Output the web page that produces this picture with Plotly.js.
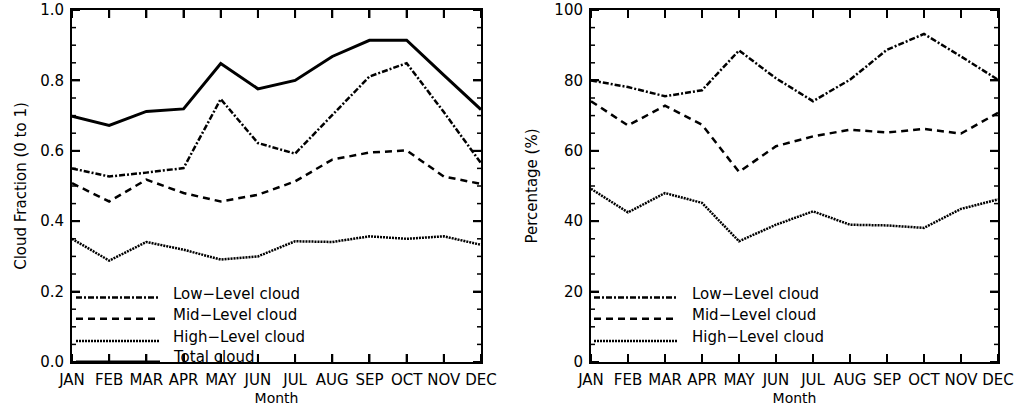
<!DOCTYPE html>
<html>
<head>
<meta charset="utf-8">
<script src="https://cdn.plot.ly/plotly-3.0.1.min.js"></script>
<style>html,body{margin:0;padding:0;background:#fff;} #chart{width:1015px;height:413px;}</style>
</head>
<body>
<div id="chart"></div>
<script>
var months = ["JAN","FEB","MAR","APR","MAY","JUN","JUL","AUG","SEP","OCT","NOV","DEC"];

var fracLow   = [0.550, 0.527, 0.538, 0.551, 0.747, 0.622, 0.592, 0.700, 0.811, 0.849, 0.710, 0.565];
var fracMid   = [0.508, 0.456, 0.518, 0.480, 0.456, 0.475, 0.513, 0.575, 0.595, 0.601, 0.527, 0.506];
var fracHigh  = [0.350, 0.288, 0.341, 0.319, 0.291, 0.300, 0.343, 0.341, 0.357, 0.350, 0.357, 0.333];
var fracTotal = [0.698, 0.672, 0.712, 0.719, 0.848, 0.776, 0.800, 0.868, 0.914, 0.914, 0.815, 0.717];

var pctLow  = [80.0, 78.1, 75.5, 77.2, 88.5, 80.6, 74.1, 80.2, 88.7, 93.2, 86.8, 80.2];
var pctMid  = [74.1, 67.2, 72.8, 67.4, 54.0, 61.3, 64.1, 66.0, 65.2, 66.2, 64.9, 70.8];
var pctHigh = [49.2, 42.5, 48.0, 45.2, 34.3, 39.0, 42.8, 39.0, 38.8, 38.1, 43.5, 46.2];

var fracTicks = [0, 0.2, 0.4, 0.6, 0.8, 1.0];
var fracTickText = ["0.0", "0.2", "0.4", "0.6", "0.8", "1.0"];
var pctTicks = [0, 20, 40, 60, 80, 100];
var pctTickText = ["0", "20", "40", "60", "80", "100"];

var seriesNames = ["Low\u2212Level cloud", "Mid\u2212Level cloud", "High\u2212Level cloud", "Total cloud"];

var FONT = "DejaVu Sans";
var DASH_LOW = "6px,2px,2px,2px";
var DASH_MID = "7px,5px";
var DASH_HIGH = "2px,1px";
var W = 2.5;
var MAJ = 8, MIN = 4;

function tr(y, xa, ya, dash, w) {
  return {x: months, y: y, xaxis: xa, yaxis: ya, type: "scatter", mode: "lines",
    line: {color: "#000", width: w || W, dash: dash}, showlegend: false, hoverinfo: "skip"};
}

var data = [
  tr(fracLow, "x", "y", DASH_LOW),
  tr(fracMid, "x", "y", DASH_MID),
  tr(fracHigh, "x", "y", DASH_HIGH),
  tr(fracTotal, "x", "y", "solid", 3),
  tr(pctLow, "x2", "y2", DASH_LOW),
  tr(pctMid, "x2", "y2", DASH_MID),
  tr(pctHigh, "x2", "y2", DASH_HIGH)
];

function xax(domain, anchor) {
  return {domain: domain, anchor: anchor, type: "category", range: [0, 11], showline: true, mirror: "ticks",
    linecolor: "#000", linewidth: 2, ticks: "inside", ticklen: MAJ, tickwidth: 2, tickcolor: "#000",
    showgrid: false, zeroline: false,
    ticklabelstandoff: 3,
    tickfont: {family: FONT, size: 15, color: "#000"},
    title: {text: "Month", font: {family: FONT, size: 14, color: "#000"}, standoff: 5}};
}
function yax(range, vals, text, title, anchor, standoff) {
  return {domain: [0, 1], anchor: anchor, range: range, tickmode: "array", tickvals: vals, ticktext: text,
    showline: true, mirror: "ticks",
    linecolor: "#000", linewidth: 2, ticks: "inside", ticklen: MAJ, tickwidth: 2, tickcolor: "#000",
    showgrid: false, zeroline: false,
    ticklabelstandoff: 3,
    tickfont: {family: FONT, size: 15, color: "#000"},
    title: {text: title, font: {family: FONT, size: 15, color: "#000"}, standoff: standoff}};
}

var xLeft = [72/1015, 481/1015];
var xRight = [591/1015, 998/1015];
var plotH = 352;

var layout = {
  width: 1015, height: 413,
  margin: {l: 0, r: 0, t: 10, b: 51},
  paper_bgcolor: "#fff", plot_bgcolor: "#fff",
  showlegend: false,
  xaxis: xax(xLeft, "y"),
  yaxis: yax([0, 1], fracTicks, fracTickText, "Cloud Fraction (0 to 1)", "x", 10),
  xaxis2: xax(xRight, "y2"),
  yaxis2: yax([0, 100], pctTicks, pctTickText, "Percentage (%)", "x2", 13),
  shapes: [], annotations: []
};

// Tick marks (inside, on all four sides), placed through the axes' own scales
function addTicks(xa, ya, yTicks, step, widthPx) {
  var tx = MAJ / plotH, ty = MAJ / widthPx, mty = MIN / widthPx;
  months.forEach(function (m) {
    layout.shapes.push({type: "line", xref: xa, yref: ya + " domain", x0: m, x1: m, y0: 0, y1: tx, line: {color: "#000", width: 2}});
    layout.shapes.push({type: "line", xref: xa, yref: ya + " domain", x0: m, x1: m, y0: 1, y1: 1 - tx, line: {color: "#000", width: 2}});
  });
  var top = yTicks[yTicks.length - 1];
  for (var k = 0; k * step <= top + 1e-9; k++) {
    var v = +(k * step).toFixed(4);
    var major = yTicks.some(function (t) { return Math.abs(t - v) < 1e-9; });
    var len = major ? ty : mty, w = major ? 2 : 1.5;
    layout.shapes.push({type: "line", xref: xa + " domain", yref: ya, x0: 0, x1: len, y0: v, y1: v, line: {color: "#000", width: w}});
    layout.shapes.push({type: "line", xref: xa + " domain", yref: ya, x0: 1, x1: 1 - len, y0: v, y1: v, line: {color: "#000", width: w}});
  }
}
addTicks("x", "y", fracTicks, 0.05, 409);
addTicks("x2", "y2", pctTicks, 5, 407);

// Legend drawn inside each panel
var legY = [0.183, 0.123, 0.06, 0.0];
var legDash = [DASH_LOW, DASH_MID, DASH_HIGH, "solid"];
function addLegend(ya, x0, x1, xt, n) {
  var s = (ya === "y" ? 1 : 100);
  for (var i = 0; i < n; i++) {
    var yy = legY[i] * s;
    layout.shapes.push({type: "line", xref: "paper", yref: ya, x0: x0, x1: x1, y0: yy, y1: yy,
      line: {color: "#000", width: i === 3 ? 3 : W, dash: legDash[i]}});
    layout.annotations.push({xref: "paper", yref: ya, x: xt, y: yy + (i === 3 ? 0.014 : 0.010) * s,
      xanchor: "left", yanchor: "middle", showarrow: false, text: seriesNames[i],
      font: {family: FONT, size: 15, color: "#000"}});
  }
}
addLegend("y", 76/1015, 160/1015, 171/1015, 4);
addLegend("y2", 594/1015, 678/1015, 690/1015, 3);

Plotly.newPlot("chart", data, layout, {staticPlot: true, displayModeBar: false});
</script>
</body>
</html>
